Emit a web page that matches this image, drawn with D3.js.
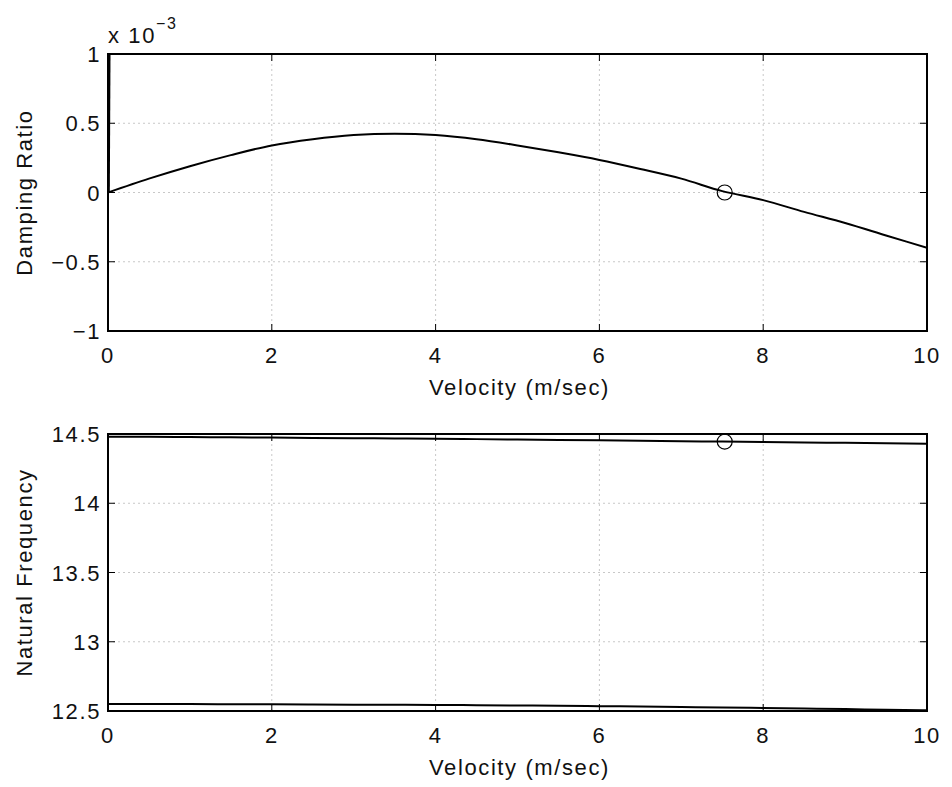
<!DOCTYPE html>
<html lang="en">
<head>
<meta charset="UTF-8">
<title>Damping Ratio and Natural Frequency</title>
<script src="https://d3js.org/d3.v7.min.js"></script>
<style>
  body { margin: 0; background: #fff; font-family: "Liberation Sans", Arial, sans-serif; }
  .grid line { stroke: #c8c8c8; stroke-dasharray: 2,3; }
  text { fill: #111; font-size: 22px; letter-spacing: 1.6px; }
</style>
</head>
<body>
<svg id="chart" width="952" height="787"></svg>
<script>
// velocity samples (m/sec)
const velocity = [0, 0.5, 1, 1.5, 2, 2.5, 3, 3.5, 4, 4.5, 5, 5.5, 6, 6.5, 7, 7.5, 8, 8.5, 9, 9.5, 10];
// damping ratio (x 1e-3)
const damping = [0, 0.10, 0.19, 0.27, 0.34, 0.385, 0.415, 0.425, 0.415, 0.385, 0.34, 0.29, 0.235, 0.17, 0.10, 0.01, -0.055, -0.14, -0.22, -0.31, -0.40];
// spike of the second mode near zero velocity
const spikeV = [0.01, 0.02];
const spikeZ = [0, 1.2];
// natural frequencies of the two modes
const freqHigh = [14.48, 14.48, 14.478, 14.476, 14.474, 14.472, 14.47, 14.468, 14.466, 14.463, 14.46, 14.457, 14.454, 14.451, 14.448, 14.445, 14.442, 14.439, 14.436, 14.433, 14.43];
const freqLow = [12.55, 12.55, 12.55, 12.549, 12.548, 12.547, 12.546, 12.545, 12.544, 12.542, 12.54, 12.538, 12.535, 12.532, 12.529, 12.526, 12.522, 12.518, 12.514, 12.509, 12.505];
// crossing marker
const markV = [7.53];
const markZ = [0];
const markF = [14.445];

const xTicks = [0, 2, 4, 6, 8, 10];
const yTicksTop = [-1, -0.5, 0, 0.5, 1];
const yTicksBot = [12.5, 13, 13.5, 14, 14.5];

const svg = d3.select("#chart");
const left = 108, right = 927;

function panel(top, bottom, yDomain, yTicks, yFmt, yLabel, series, marks, clipId) {
  const x = d3.scaleLinear().domain([0, 10]).range([left, right]);
  const y = d3.scaleLinear().domain(yDomain).range([bottom, top]);
  const g = svg.append("g");

  g.append("clipPath").attr("id", clipId)
    .append("rect").attr("x", left).attr("y", top).attr("width", right - left).attr("height", bottom - top);

  // grid
  const grid = g.append("g").attr("class", "grid");
  grid.selectAll(".gx").data(xTicks.slice(1, -1)).enter().append("line")
    .attr("x1", d => x(d)).attr("x2", d => x(d)).attr("y1", top).attr("y2", bottom);
  grid.selectAll(".gy").data(yTicks.slice(1, -1)).enter().append("line")
    .attr("y1", d => y(d)).attr("y2", d => y(d)).attr("x1", left).attr("x2", right);

  // inward ticks on all sides
  const tl = 7;
  const ticks = g.append("g").attr("stroke", "#000").attr("stroke-width", 1);
  xTicks.forEach(d => {
    ticks.append("line").attr("x1", x(d)).attr("x2", x(d)).attr("y1", bottom).attr("y2", bottom - tl);
    ticks.append("line").attr("x1", x(d)).attr("x2", x(d)).attr("y1", top).attr("y2", top + tl);
  });
  yTicks.forEach(d => {
    ticks.append("line").attr("y1", y(d)).attr("y2", y(d)).attr("x1", left).attr("x2", left + tl);
    ticks.append("line").attr("y1", y(d)).attr("y2", y(d)).attr("x1", right).attr("x2", right - tl);
  });

  // data
  const line = d3.line().curve(d3.curveMonotoneX).x(d => x(d[0])).y(d => y(d[1]));
  const plot = g.append("g").attr("clip-path", `url(#${clipId})`);
  series.forEach(s => {
    plot.append("path").datum(s).attr("d", line)
      .attr("fill", "none").attr("stroke", "#000").attr("stroke-width", 2);
  });
  g.selectAll(".mark").data(marks).enter().append("circle")
    .attr("cx", d => x(d[0])).attr("cy", d => y(d[1])).attr("r", 7.5)
    .attr("fill", "none").attr("stroke", "#000").attr("stroke-width", 1.2);

  // box
  g.append("rect").attr("x", left).attr("y", top).attr("width", right - left).attr("height", bottom - top)
    .attr("fill", "none").attr("stroke", "#000").attr("stroke-width", 2);

  // tick labels
  g.selectAll(".xl").data(xTicks).enter().append("text")
    .attr("x", d => x(d)).attr("y", bottom + 32).attr("text-anchor", "middle").text(d => d);
  g.selectAll(".yl").data(yTicks).enter().append("text")
    .attr("x", left - 7).attr("y", d => y(d) + 8).attr("text-anchor", "end").text(yFmt);

  // axis labels
  g.append("text").attr("x", (left + right) / 2 + 2).attr("y", bottom + 64)
    .attr("text-anchor", "middle").text("Velocity (m/sec)");
  g.append("text").attr("transform", `translate(${left - 76},${(top + bottom) / 2}) rotate(-90)`)
    .attr("text-anchor", "middle").text(yLabel);
  return { x, y };
}

const fmtSigned = d => d < 0 ? "\u2212" + Math.abs(d) : String(d);

panel(54, 331, [-1, 1], yTicksTop, fmtSigned, "Damping Ratio",
  [velocity.map((v, i) => [v, damping[i]]), spikeV.map((v, i) => [v, spikeZ[i]])],
  markV.map((v, i) => [v, markZ[i]]), "clipTop");

panel(434, 711, [12.5, 14.5], yTicksBot, d => d, "Natural Frequency",
  [velocity.map((v, i) => [v, freqHigh[i]]), velocity.map((v, i) => [v, freqLow[i]])],
  markV.map((v, i) => [v, markF[i]]), "clipBot");

// exponent label
const ex = svg.append("text").attr("x", 108).attr("y", 43);
ex.append("tspan").text("x 10");
ex.append("tspan").attr("dy", -14).attr("font-size", 16).text("\u22123");
</script>
</body>
</html>
